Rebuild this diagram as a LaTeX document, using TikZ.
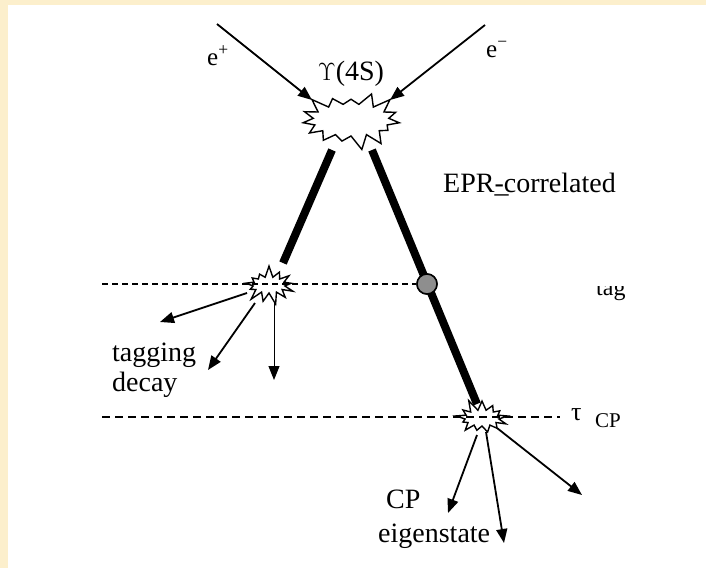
\documentclass[tikz,border=0pt]{standalone}
\usepackage{fontspec}
\setmainfont{Liberation Serif}
\usepackage{tikz}
\usetikzlibrary{arrows.meta,shapes.symbols}
\definecolor{cream}{HTML}{FCEFCC}
\definecolor{dotgray}{HTML}{8E8E8E}
\tikzset{beam/.style={-{Triangle[length=14pt,width=11pt]},line width=1.8pt},track/.style={line width=8pt},prong/.style={-{Triangle[length=14pt,width=11pt]},line width=1.8pt},burst/.style={starburst,draw,line width=1.4pt,inner sep=0pt},lbl/.style={font=\fontsize{28}{30}\selectfont,inner sep=0pt},tagline/.style={dash pattern=on 6pt off 4pt,line width=1.8pt},cpline/.style={dash pattern=on 8pt off 5pt,line width=1.1pt}}

\begin{document}
\begin{tikzpicture}[x=1pt,y=-1pt]
\fill[cream] (0,0) rectangle (706,568);
\fill[white] (8,5) rectangle (706,568);
\useasboundingbox (0,0) rectangle (706,568);
% vertices
\node[burst,minimum width=106pt,minimum height=62pt,starburst points=15,starburst point height=15pt,random starburst=3] (ups) at (351,120) {};
\node[burst,minimum width=56pt,minimum height=40pt,starburst points=13,starburst point height=12pt,random starburst=7] (tagv) at (269,285) {};
\node[burst,minimum width=58pt,minimum height=40pt,starburst points=13,starburst point height=12pt,random starburst=11] (cpv) at (482,418) {};
\node[circle,draw,fill=dotgray,line width=1.5pt,minimum size=20pt,inner sep=0pt] (dot) at (427,284) {};
% beams
\coordinate (pin) at (217,24);
\coordinate (ein) at (485,25);
\draw[beam] (pin) -- (312,100);
\draw[beam] (ein) -- (390,100);
\node[lbl,font=\fontsize{25}{27}\selectfont,anchor=base west] (ep) at (207,65) {e\textsuperscript{+}};
\node[lbl,font=\fontsize{25}{27}\selectfont,anchor=base west] (em) at (486,57) {e\textsuperscript{\char"2212}};
\node[lbl,anchor=base] (ylab) at (351,80) {$\Upsilon$(4S)};
% time lines
\coordinate (tl0) at (102,284);
\coordinate (cl0) at (102,417);
\coordinate (cl1) at (560,417);
\draw[tagline] (tl0) -- (dot.west);
\draw[cpline] (cl0) -- (cl1);
% B tracks
\coordinate (ul) at (332,150);
\coordinate (ur) at (372,150);
\coordinate (tl) at (283,263);
\coordinate (cr) at (477,404);
\draw[track] (ul) -- (tl);
\draw[track] (ur) -- (cr);
\node[circle,draw,fill=dotgray,line width=1.5pt,minimum size=20pt,inner sep=0pt] at (dot) {};
% decay products
\draw[prong] ([shift={(-22,8)}]tagv.center) -- (160,322);
\draw[prong] ([shift={(-14,18)}]tagv.center) -- (208,370);
\draw[prong,line width=1pt] ([shift={(5,17)}]tagv.center) -- (274,380);
\draw[prong] ([shift={(-5,17)}]cpv.center) -- (448,513);
\draw[prong] ([shift={(4,14)}]cpv.center) -- (504,543);
\draw[prong] ([shift={(15,10)}]cpv.center) -- (582,495);
% labels
\node[lbl,anchor=base west] (epr) at (443,192) {EPR\rlap{\_}-correlated};
\node[lbl,anchor=base west] (tg) at (112,361) {tagging};
\node[lbl,anchor=base west] (dc) at (112,391) {decay};
\node[lbl,anchor=base west] (cp) at (386,508) {CP};
\node[lbl,anchor=base west] (eig) at (378,542) {eigenstate};
\node[lbl,font=\fontsize{26}{28}\selectfont,anchor=base west] (tau) at (571,420) {τ};
\node[lbl,font=\fontsize{21}{24}\selectfont,anchor=base west] (cpsub) at (595,427) {CP};
\begin{scope}
\clip (560,286) rectangle (660,320);
\node[lbl,font=\fontsize{24}{26}\selectfont,anchor=base west] (tagsub) at (596,295) {tag};
\end{scope}
\end{tikzpicture}
\end{document}
